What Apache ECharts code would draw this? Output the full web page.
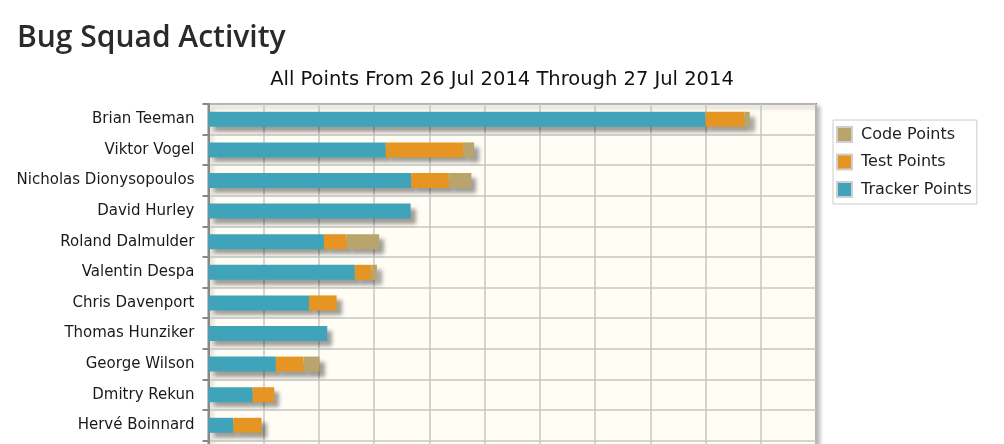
<!DOCTYPE html>
<html>
<head>
<meta charset="utf-8">
<script src="https://cdn.jsdelivr.net/npm/echarts@6/dist/echarts.min.js"></script>
<style>
html,body{margin:0;padding:0;background:#fff;}
#chart{width:1004px;height:444px;}
</style>
</head>
<body>
<div id="chart"></div>
<script>
const titleText = 'Bug Squad Activity';
const subtitleText = 'All Points From 26 Jul 2014 Through 27 Jul 2014';
const people = ['Brian Teeman','Viktor Vogel','Nicholas Dionysopoulos','David Hurley','Roland Dalmulder','Valentin Despa','Chris Davenport','Thomas Hunziker','George Wilson','Dmitry Rekun','Hervé Boinnard'];
const trackerPoints = [90, 32.1, 36.7, 36.6, 20.9, 26.5, 18.2, 21.5, 12.2, 8.0, 4.5];
const testPoints    = [7, 14, 6.9, 0, 4.1, 3, 5, 0, 5, 3.9, 5.1];
const codePoints    = [1, 2, 4, 0, 5.9, 1, 0, 0, 2.9, 0, 0];
const seriesNames = ['Tracker Points','Test Points','Code Points'];
const legendOrder = ['Code Points','Test Points','Tracker Points'];
const colors = ['#3fa4b9','#e69422','#b9a56c'];

const FONT = '"DejaVu Sans", Tahoma, Verdana, sans-serif';
const chart = echarts.init(document.getElementById('chart'), null, {renderer:'canvas'});
const shadow = {shadowBlur:4, shadowOffsetX:5, shadowOffsetY:5, shadowColor:'rgba(0,0,0,0.38)'};
const vals = [trackerPoints, testPoints, codePoints];
const series = seriesNames.map((n,i)=>({
  name:n, type:'bar', stack:'all', barWidth:15,
  data: vals[i].map(v => v === 0 ? null : v),
  itemStyle: Object.assign({color:colors[i]}, shadow),
  emphasis:{disabled:true}
}));
chart.setOption({
  animation:false,
  color: colors,
  title:[
    {text:titleText, left:12, top:18, textStyle:{fontFamily:'"Open Sans"', fontWeight:600, fontSize:30, color:'#2a2a2a'}},
    {text:subtitleText, left:'center', top:65, textStyle:{fontFamily:FONT, fontWeight:'normal', fontSize:19.5, color:'#111'}}
  ],
  legend:{
    orient:'vertical', left:833, top:120, data:legendOrder, icon:'rect',
    itemWidth:15, itemHeight:15, itemGap:10.5,
    padding:[6,5,6,3],
    borderColor:'#cccccc', borderWidth:1, backgroundColor:'#fff',
    textStyle:{fontFamily:FONT, fontSize:16, lineHeight:15, color:'#222', padding:[0,0,0,4]},
    itemStyle:{borderColor:'#cfcfcf', borderWidth:2, shadowBlur:0, shadowOffsetX:0, shadowOffsetY:0},
    selectedMode:false
  },
  grid:{
    left:208.5, right:188, top:104, height:367.2,
    outerBoundsMode:'none', containLabel:false,
    show:true, backgroundColor:'#fffdf4', borderColor:'#888', borderWidth:2,
    shadowBlur:4, shadowOffsetX:3, shadowOffsetY:3, shadowColor:'rgba(0,0,0,0.25)'
  },
  xAxis:{
    type:'value', min:0, max:110, interval:10,
    axisLabel:{show:false}, axisLine:{show:false}, axisTick:{show:false},
    splitLine:{show:true, lineStyle:{color:'#c6c6c6', width:1.5}}
  },
  yAxis:{
    type:'category', data:people, inverse:true, min:0, max:11,
    axisLine:{show:true, lineStyle:{color:'#888', width:2}},
    axisTick:{show:true, length:6, interval:0, lineStyle:{color:'#888', width:2}},
    axisLabel:{margin:14, interval:0, fontFamily:FONT, fontSize:15, color:'#1a1a1a'},
    splitLine:{show:true, interval:0, lineStyle:{color:'#c6c6c6', width:1.5}}
  },
  series: series
});
</script>
</body>
</html>
